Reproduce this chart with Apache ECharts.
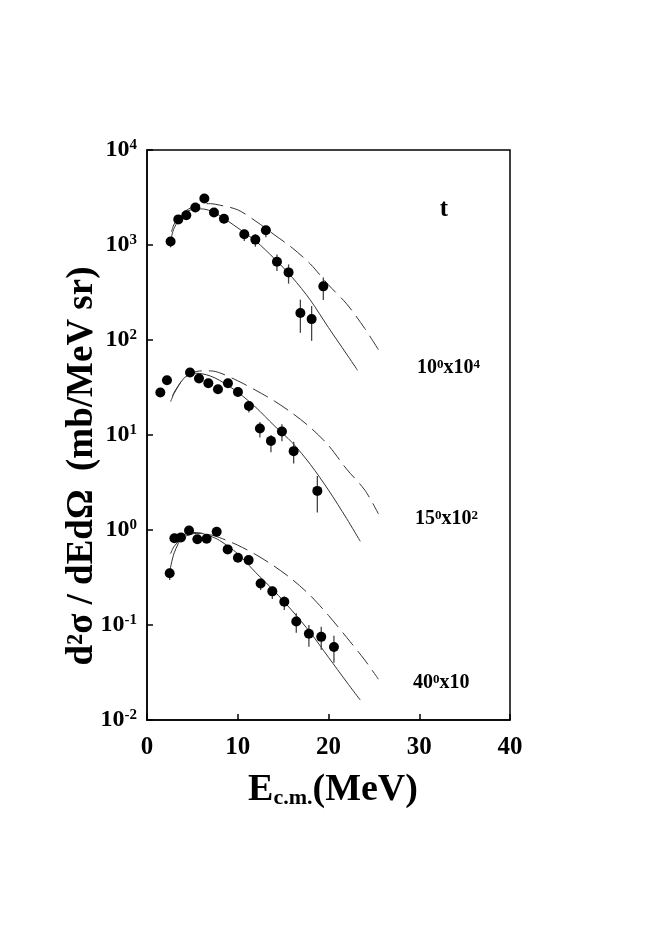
<!DOCTYPE html>
<html>
<head>
<meta charset="utf-8">
<script src="https://cdn.jsdelivr.net/npm/echarts@6/dist/echarts.min.js"></script>
<style>
  html, body { margin: 0; padding: 0; background: #fff; }
  #chart { width: 654px; height: 941px; }
</style>
</head>
<body>
<div id="chart"></div>
<script>
// --- data points (t spectra), already scaled ---
const a10E  = [2.6, 3.45, 4.33, 5.33, 6.32, 7.38, 8.48, 10.72, 11.94, 13.1, 14.32, 15.6, 16.9, 18.14, 19.43];
const a10Y  = [1090, 1860, 2060, 2480, 3090, 2200, 1890, 1300, 1140, 1430, 667, 515, 192, 166, 367];
const a10Lo = [945, 1700, 1900, 2300, 2900, 2000, 1680, 1100, 960, 1210, 532, 392, 119, 98, 263];
const a10Hi = [1150, 1950, 2200, 2650, 3300, 2400, 2050, 1450, 1300, 1570, 796, 625, 266, 228, 455];

const a15E  = [1.47, 2.2, 4.74, 5.73, 6.76, 7.82, 8.92, 10.02, 11.23, 12.44, 13.66, 14.87, 16.16, 18.77];
const a15Y  = [28, 37.7, 45.4, 39.3, 35, 30.3, 35, 28.4, 20.2, 11.7, 8.67, 10.9, 6.76, 2.58];
const a15Lo = [27, 36, 43, 36, 32, 27, 32, 25.5, 17.3, 9.4, 6.6, 8.6, 5.0, 1.53];
const a15Hi = [29, 39.5, 48, 42, 38, 33, 38, 31, 22.3, 13.7, 10, 13, 8.5, 3.7];

const a40E  = [2.5, 3.02, 3.74, 4.63, 5.55, 6.57, 7.68, 8.89, 10.02, 11.2, 12.52, 13.81, 15.13, 16.45, 17.84, 19.2, 20.6];
const a40Y  = [0.35, 0.817, 0.836, 0.99, 0.80, 0.81, 0.957, 0.625, 0.51, 0.482, 0.274, 0.226, 0.176, 0.109, 0.081, 0.075, 0.0587];
const a40Lo = [0.297, 0.78, 0.80, 0.95, 0.76, 0.77, 0.91, 0.57, 0.46, 0.44, 0.233, 0.188, 0.144, 0.083, 0.059, 0.055, 0.04];
const a40Hi = [0.394, 0.86, 0.88, 1.04, 0.84, 0.85, 1.0, 0.68, 0.56, 0.52, 0.31, 0.253, 0.2, 0.133, 0.1, 0.096, 0.077];

// --- calculations (solid / dashed) ---
const s10E = [2.6, 3, 4, 5, 6, 7, 8, 10, 12, 14, 16, 18, 20, 22, 23.2];
const s10Y = [1100, 1514, 2089, 2371, 2399, 2291, 2042, 1514, 1096, 724, 457, 263, 135, 71, 48];
const d10E = [2.7, 3, 4, 5, 6, 7, 8, 10, 12, 14, 16, 18, 20, 22, 24, 25.5];
const d10Y = [1380, 1660, 2188, 2512, 2692, 2723, 2630, 2344, 1778, 1288, 933, 631, 380, 240, 132, 79];

const s15E = [2.6, 3, 4, 5, 6, 7, 8, 10, 12, 14, 16, 18, 20, 22, 23.5];
const s15Y = [22.4, 27.5, 38.9, 44.7, 44.2, 41.7, 37.6, 28.2, 19.5, 12.6, 8.32, 4.9, 2.63, 1.32, 0.76];
const d15E = [2.8, 3, 4, 5, 6, 7, 8, 10, 12, 14, 16, 18, 20, 22, 24, 25.5];
const d15Y = [25.7, 28.2, 38.9, 45.2, 47.3, 47.3, 45.2, 37.2, 29.5, 22.9, 17.0, 12.0, 7.76, 4.37, 2.63, 1.48];

const s40E = [2.5, 3, 4, 5, 6, 7, 8, 10, 12, 14, 16, 18, 20, 22, 23.5];
const s40Y = [0.363, 0.575, 0.871, 0.944, 0.923, 0.861, 0.776, 0.562, 0.355, 0.229, 0.141, 0.0832, 0.0457, 0.0251, 0.0162];
const d40E = [2.6, 3, 4, 5, 6, 7, 8, 10, 12, 14, 16, 18, 20, 22, 24, 25.5];
const d40Y = [0.562, 0.676, 0.832, 0.912, 0.923, 0.891, 0.832, 0.692, 0.55, 0.417, 0.302, 0.204, 0.126, 0.0741, 0.0427, 0.0269];

const xTicks = [0, 10, 20, 30, 40];

const FONT = "'Liberation Serif', 'Times New Roman', serif";
const zip = (a, b) => a.map((v, i) => [v, b[i]]);
const zip3 = (a, b, c) => a.map((v, i) => [v, b[i], c[i]]);

function errSeries(e, lo, hi) {
  return {
    type: "custom",
    data: zip3(e, lo, hi),
    encode: { x: 0, y: [1, 2] },
    z: 3,
    silent: true,
    renderItem: (params, api) => {
      const p1 = api.coord([api.value(0), api.value(1)]);
      const p2 = api.coord([api.value(0), api.value(2)]);
      return {
        type: "line",
        shape: { x1: p1[0], y1: p1[1], x2: p2[0], y2: p2[1] },
        style: { stroke: "#444", lineWidth: 1.3 },
      };
    },
  };
}
function dots(e, y) {
  return {
    type: "scatter",
    data: zip(e, y),
    symbol: "circle",
    symbolSize: 10,
    itemStyle: { color: "#000", opacity: 1 },
    z: 4,
  };
}
function curve(e, y, dashed) {
  return {
    type: "line",
    data: zip(e, y),
    showSymbol: false,
    smooth: 0.3,
    z: 2,
    lineStyle: { color: "#333", width: 1, type: dashed ? [17, 7] : "solid" },
  };
}

const chart = echarts.init(document.getElementById("chart"));
const sup = { fontFamily: FONT, fontWeight: "bold", fontSize: 15, color: "#000", verticalAlign: "top", padding: [0, 0, 9, 0] };
const big = { fontFamily: FONT, fontWeight: "bold", fontSize: 24, color: "#000" };
const lbl = { fontFamily: FONT, fontWeight: "bold", fontSize: 20, color: "#000" };
const lsup = { fontFamily: FONT, fontWeight: "bold", fontSize: 13, color: "#000", verticalAlign: "top", padding: [0, 0, 7, 0] };

chart.setOption({
  animation: false,
  grid: { left: 147, right: 144, top: 150, bottom: 221, show: true, borderColor: "#000", borderWidth: 1.5 },
  xAxis: {
    type: "value",
    min: xTicks[0],
    max: xTicks[xTicks.length - 1],
    interval: 10,
    axisLine: { lineStyle: { color: "#000", width: 1.5 } },
    axisTick: { inside: true, length: 6, lineStyle: { color: "#000", width: 1.5 } },
    splitLine: { show: false },
    axisLabel: { margin: 15, fontFamily: FONT, fontWeight: "bold", fontSize: 25, color: "#000" },
  },
  yAxis: {
    type: "log",
    logBase: 10,
    min: 0.01,
    max: 10000,
    splitNumber: 6,
    axisLine: { lineStyle: { color: "#000", width: 1.5 } },
    axisTick: { inside: true, length: 6, lineStyle: { color: "#000", width: 1.5 } },
    splitLine: { show: false },
    axisLabel: {
      margin: 10,
      formatter: (v) => "{b|10}{s|" + Math.round(Math.log10(v)) + "}",
      rich: { b: big, s: sup },
    },
  },
  graphic: [
    {
      type: "text", x: 82, y: 466, rotation: Math.PI / 2,
      style: { text: "d²σ / dEdΩ  (mb/MeV sr)", font: "bold 37px " + FONT, fill: "#000", align: "center", verticalAlign: "middle" },
    },
    {
      type: "text", x: 333, y: 790,
      style: {
        text: "{e|E}{c|c.m.}{e|(MeV)}", align: "center", verticalAlign: "middle",
        rich: {
          e: { fontFamily: FONT, fontWeight: "bold", fontSize: 38, color: "#000" },
          c: { fontFamily: FONT, fontWeight: "bold", fontSize: 22, color: "#000", verticalAlign: "bottom", padding: [16, 0, 0, 0] },
        },
      },
    },
    { type: "text", x: 444, y: 210, style: { text: "t", font: "bold 25px " + FONT, fill: "#000", align: "center", verticalAlign: "middle" } },
    { type: "text", x: 417, y: 368, style: { text: "{n|10}{s|0}{n|x10}{s|4}", verticalAlign: "middle", rich: { n: lbl, s: lsup } } },
    { type: "text", x: 415, y: 519, style: { text: "{n|15}{s|0}{n|x10}{s|2}", verticalAlign: "middle", rich: { n: lbl, s: lsup } } },
    { type: "text", x: 413, y: 683, style: { text: "{n|40}{s|0}{n|x10}", verticalAlign: "middle", rich: { n: lbl, s: lsup } } },
  ],
  series: [
    curve(s10E, s10Y, false), curve(d10E, d10Y, true),
    curve(s15E, s15Y, false), curve(d15E, d15Y, true),
    curve(s40E, s40Y, false), curve(d40E, d40Y, true),
    errSeries(a10E, a10Lo, a10Hi), errSeries(a15E, a15Lo, a15Hi), errSeries(a40E, a40Lo, a40Hi),
    dots(a10E, a10Y), dots(a15E, a15Y), dots(a40E, a40Y),
  ],
});
window.addEventListener("resize", () => chart.resize());
</script>
</body>
</html>
